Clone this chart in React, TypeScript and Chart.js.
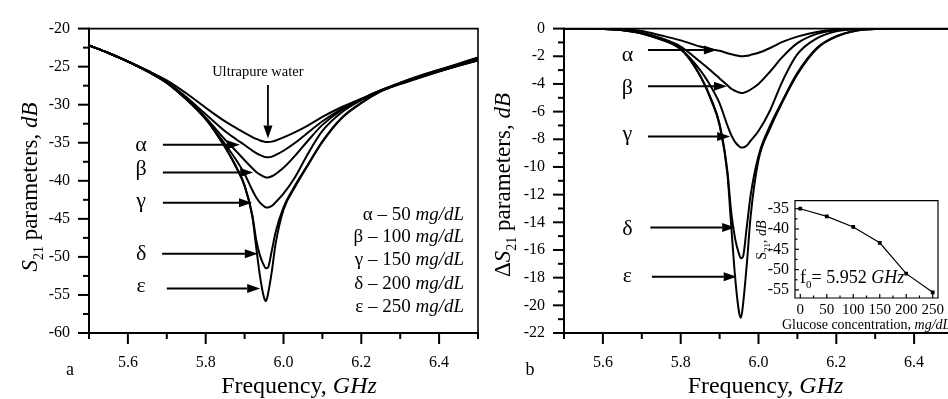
import React, { useEffect, useRef } from 'react';
import { Chart, registerables } from 'chart.js';

Chart.register(...registerables);

const SERIF = '"Liberation Serif", "Times New Roman", serif';

// ---------------- data ----------------
const freqs = [5.50, 5.55, 5.60, 5.65, 5.70, 5.75, 5.80, 5.85, 5.88, 5.90, 5.92, 5.93, 5.94, 5.95, 5.955, 5.96, 5.97, 5.98, 6.00, 6.03, 6.06, 6.10, 6.15, 6.20, 6.25, 6.30, 6.35, 6.40, 6.45, 6.50];

// panel a: S21 (dB)
const waterS21 = [-22.2, -23.2, -24.3, -25.5, -26.8, -28.5, -30.4, -32.2, -33.1, -33.7, -34.25, -34.5, -34.7, -34.85, -34.9, -34.9, -34.85, -34.7, -34.3, -33.6, -32.8, -31.6, -30.3, -29.2, -28.1, -27.1, -26.2, -25.4, -24.6, -23.8];
const alphaS21 = [-22.2, -23.2, -24.31, -25.55, -26.98, -29.0, -31.25, -33.5, -34.6, -35.3, -36.03, -36.36, -36.63, -36.83, -36.9, -36.9, -36.82, -36.6, -36.05, -35.0, -33.78, -32.18, -30.54, -29.27, -28.12, -27.15, -26.25, -25.45, -24.7, -23.95];
const betaS21 = [-22.2, -23.2, -24.32, -25.6, -27.1, -29.2, -31.7, -34.6, -36.2, -37.3, -38.35, -38.85, -39.2, -39.47, -39.55, -39.55, -39.4, -39.1, -38.3, -36.7, -34.9, -32.65, -30.68, -29.32, -28.13, -27.2, -26.3, -25.5, -24.75, -24.0];
const gammaS21 = [-22.2, -23.2, -24.32, -25.6, -27.12, -29.25, -31.9, -35.2, -37.4, -39.1, -41.25, -42.2, -42.9, -43.35, -43.5, -43.5, -43.3, -42.8, -41.7, -39.5, -36.7, -33.45, -31.0, -29.4, -28.15, -27.2, -26.35, -25.55, -24.8, -24.1];
const deltaS21 = [-22.2, -23.2, -24.33, -25.62, -27.15, -29.3, -31.85, -35.6, -38.3, -40.6, -44.55, -47.8, -49.9, -51.15, -51.5, -51.4, -49.15, -46.7, -43.5, -40.6, -38.1, -34.8, -31.7, -29.75, -28.25, -27.25, -26.4, -25.6, -24.85, -24.15];
const epsS21 = [-22.2, -23.2, -24.33, -25.62, -27.15, -29.3, -31.85, -35.6, -38.4, -40.7, -44.75, -48.8, -52.7, -55.35, -55.8, -54.9, -51.9, -48.2, -43.8, -40.8, -38.2, -34.9, -31.75, -29.78, -28.25, -27.3, -26.45, -25.65, -24.9, -24.2];

// panel b: ΔS21 (dB)
const alphaDelta = [0, 0, -0.01, -0.05, -0.18, -0.5, -0.85, -1.3, -1.5, -1.6, -1.78, -1.86, -1.93, -1.98, -2.0, -2.0, -1.97, -1.9, -1.75, -1.4, -0.98, -0.58, -0.24, -0.07, -0.02, 0, 0, 0, 0, 0];
const betaDelta = [0, 0, -0.02, -0.1, -0.3, -0.7, -1.3, -2.4, -3.1, -3.6, -4.1, -4.35, -4.5, -4.62, -4.65, -4.65, -4.55, -4.4, -4.0, -3.1, -2.1, -1.05, -0.38, -0.12, -0.03, 0, 0, 0, 0, 0];
const gammaDelta = [0, 0, -0.02, -0.1, -0.32, -0.75, -1.5, -3.0, -4.3, -5.4, -7.0, -7.7, -8.2, -8.5, -8.6, -8.6, -8.45, -8.1, -7.4, -5.9, -3.9, -1.85, -0.7, -0.2, -0.05, 0, 0, 0, 0, 0];
const deltaDelta = [0, 0, -0.03, -0.12, -0.35, -0.8, -1.45, -3.4, -5.2, -6.9, -10.3, -13.3, -15.2, -16.3, -16.6, -16.5, -14.3, -12.0, -9.2, -7.0, -5.3, -3.2, -1.4, -0.55, -0.15, -0.03, 0, 0, 0, 0];
const epsDelta = [0, 0, -0.03, -0.12, -0.35, -0.8, -1.45, -3.4, -5.3, -7.0, -10.5, -14.3, -18.0, -20.5, -20.9, -20.0, -17.0, -13.5, -9.5, -7.2, -5.4, -3.3, -1.45, -0.58, -0.15, -0.03, 0, 0, 0, 0];

// inset
const concentrations = [0, 50, 100, 150, 200, 250];
const resonanceS21 = [-35.0, -36.9, -39.5, -43.4, -51.0, -55.6];

// ticks / labels
const freqLabelTicks = [5.6, 5.8, 6.0, 6.2, 6.4];
const s21LabelTicks = [-60, -55, -50, -45, -40, -35, -30, -25, -20];
const deltaLabelTicks = [-22, -20, -18, -16, -14, -12, -10, -8, -6, -4, -2, 0];
const concTicks = [0, 50, 100, 150, 200, 250];
const insetS21Ticks = [-55, -50, -45, -40, -35];
const greek = ['α', 'β', 'γ', 'δ', 'ε'];
const concLabels = ['50', '100', '150', '200', '250'];

// annotation anchors (data units)
const arrowA = [
  { y: -35.25, x0: 5.69, x1: 5.888, ty: -36.1 },
  { y: -38.9, x0: 5.69, x1: 5.922, ty: -39.3 },
  { y: -42.9, x0: 5.69, x1: 5.919, ty: -43.4 },
  { y: -49.6, x0: 5.688, x1: 5.934, ty: -50.4 },
  { y: -54.15, x0: 5.70, x1: 5.94, ty: -54.6 },
];
const arrowB = [
  { y: -1.55, x0: 5.716, x1: 5.893, ty: -2.31 },
  { y: -4.16, x0: 5.716, x1: 5.919, ty: -4.7 },
  { y: -7.8, x0: 5.716, x1: 5.927, ty: -8.06 },
  { y: -14.37, x0: 5.722, x1: 5.94, ty: -14.93 },
  { y: -17.94, x0: 5.726, x1: 5.944, ty: -18.29 },
];

// ---------------- helpers ----------------
type Seg = { t: string; it?: boolean; sub?: boolean };

function drawRich(ctx: CanvasRenderingContext2D, segs: Seg[], x: number, y: number, size: number, align = 'left', rot = 0) {
  ctx.save();
  ctx.translate(x, y);
  if (rot) ctx.rotate(rot);
  ctx.textBaseline = 'alphabetic';
  ctx.textAlign = 'left';
  ctx.fillStyle = '#000';
  const font = (s: Seg) => `${s.it ? 'italic ' : ''}${s.sub ? Math.round(size * 0.62) : size}px ${SERIF}`;
  let w = 0;
  for (const s of segs) { ctx.font = font(s); w += ctx.measureText(s.t).width; }
  let cx = align === 'center' ? -w / 2 : align === 'right' ? -w : 0;
  for (const s of segs) {
    ctx.font = font(s);
    ctx.fillText(s.t, cx, s.sub ? size * 0.25 : 0);
    cx += ctx.measureText(s.t).width;
  }
  ctx.restore();
}

function arrow(ctx: CanvasRenderingContext2D, x0: number, y0: number, x1: number, y1: number, head = 13, half = 4.5, lw = 2) {
  const ang = Math.atan2(y1 - y0, x1 - x0);
  const bx = x1 - head * Math.cos(ang);
  const by = y1 - head * Math.sin(ang);
  ctx.lineWidth = lw;
  ctx.beginPath(); ctx.moveTo(x0, y0); ctx.lineTo(bx, by); ctx.stroke();
  ctx.beginPath();
  ctx.moveTo(x1, y1);
  ctx.lineTo(bx - half * Math.sin(ang), by + half * Math.cos(ang));
  ctx.lineTo(bx + half * Math.sin(ang), by - half * Math.cos(ang));
  ctx.closePath(); ctx.fill();
}

function range(a: number, b: number, step: number) {
  const out: number[] = [];
  for (let v = a; v <= b + step / 1000; v += step) out.push(Math.round(v * 1000) / 1000);
  return out;
}

function framePlugin(opts: { xTicks: number[]; xMajor: (v: number) => boolean; yTicks: number[]; yMajor: (v: number) => boolean; major: number; minor: number; inside?: boolean; axisW: number; boxW: number }) {
  return {
    id: 'frame',
    afterDraw(chart: any) {
      const { ctx, chartArea: ca, scales } = chart;
      const xs = scales.x, ys = scales.y;
      ctx.save();
      ctx.strokeStyle = '#000';
      ctx.fillStyle = '#000';
      ctx.lineCap = 'butt';
      ctx.lineWidth = opts.boxW;
      ctx.beginPath();
      ctx.moveTo(ca.left, ca.top); ctx.lineTo(ca.right, ca.top); ctx.lineTo(ca.right, ca.bottom);
      ctx.stroke();
      ctx.lineWidth = opts.axisW;
      ctx.beginPath();
      ctx.moveTo(ca.left, ca.top - opts.boxW / 2); ctx.lineTo(ca.left, ca.bottom); ctx.lineTo(ca.right + opts.boxW / 2, ca.bottom);
      ctx.stroke();
      const dir = opts.inside ? -1 : 1;
      ctx.lineWidth = opts.axisW;
      for (const v of opts.xTicks) {
        const px = xs.getPixelForValue(v);
        const len = opts.xMajor(v) ? opts.major : opts.minor;
        ctx.beginPath(); ctx.moveTo(px, ca.bottom); ctx.lineTo(px, ca.bottom + dir * len); ctx.stroke();
      }
      for (const v of opts.yTicks) {
        const py = ys.getPixelForValue(v);
        const len = opts.yMajor(v) ? opts.major : opts.minor;
        ctx.beginPath(); ctx.moveTo(ca.left, py); ctx.lineTo(ca.left - dir * len, py); ctx.stroke();
      }
      ctx.restore();
    },
  };
}

function lineDatasets(series: number[][], xs: number[], width: number) {
  return series.map((ys) => ({
    data: xs.map((x, i) => ({ x, y: ys[i] })),
    borderColor: '#000',
    borderWidth: width,
    pointRadius: 0,
    cubicInterpolationMode: 'monotone' as const,
    fill: false,
  }));
}

function fixedTicks(values: number[]) {
  return (scale: any) => { scale.ticks = values.map((v) => ({ value: v })); };
}

const isEvenTenth = (v: number) => Math.round(v * 10) % 2 === 0;

// ---------------- component ----------------
export default function App() {
  const refA = useRef<HTMLCanvasElement>(null);
  const refB = useRef<HTMLCanvasElement>(null);
  const refI = useRef<HTMLCanvasElement>(null);

  useEffect(() => {
    const tickFont = { family: SERIF, size: 16 };

    const annotA = {
      id: 'annotA',
      afterDraw(chart: any) {
        const { ctx, scales: { x, y } } = chart;
        ctx.save();
        ctx.strokeStyle = '#000';
        ctx.fillStyle = '#000';
        drawRich(ctx, [{ t: 'Ultrapure water' }], x.getPixelForValue(5.934), y.getPixelForValue(-26.2), 14.5, 'center');
        arrow(ctx, x.getPixelForValue(5.96), y.getPixelForValue(-27.4), x.getPixelForValue(5.96), y.getPixelForValue(-34.45), 13, 4.5, 1.8);
        arrowA.forEach((a, i) => {
          drawRich(ctx, [{ t: greek[i] }], x.getPixelForValue(5.634), y.getPixelForValue(a.ty), 22, 'center');
          arrow(ctx, x.getPixelForValue(a.x0), y.getPixelForValue(a.y), x.getPixelForValue(a.x1), y.getPixelForValue(a.y));
        });
        const legendY = [-45.2, -48.0, -51.1, -54.2, -57.3];
        concLabels.forEach((c, i) => {
          drawRich(ctx, [{ t: `${greek[i]} – ${c} ` }, { t: 'mg/dL', it: true }], x.getPixelForValue(6.464), y.getPixelForValue(legendY[i]), 19, 'right');
        });
        drawRich(ctx, [{ t: 'Frequency, ' }, { t: 'GHz', it: true }], 299, 393, 24, 'center');
        drawRich(ctx, [{ t: 'S', it: true }, { t: '21', sub: true }, { t: ' parameters, ' }, { t: 'dB', it: true }], 37, 187, 23, 'center', -Math.PI / 2);
        drawRich(ctx, [{ t: 'a' }], 70, 375, 18, 'center');
        ctx.restore();
      },
    };

    const annotB = {
      id: 'annotB',
      afterDraw(chart: any) {
        const { ctx, scales: { x, y } } = chart;
        ctx.save();
        ctx.strokeStyle = '#000';
        ctx.fillStyle = '#000';
        arrowB.forEach((a, i) => {
          drawRich(ctx, [{ t: greek[i] }], x.getPixelForValue(5.663), y.getPixelForValue(a.ty), 22, 'center');
          arrow(ctx, x.getPixelForValue(a.x0), y.getPixelForValue(a.y), x.getPixelForValue(a.x1), y.getPixelForValue(a.y));
        });
        drawRich(ctx, [{ t: 'Frequency, ' }, { t: 'GHz', it: true }], 275.5, 393, 24, 'center');
        drawRich(ctx, [{ t: 'Δ' }, { t: 'S', it: true }, { t: '21', sub: true }, { t: ' parameters, ' }, { t: 'dB', it: true }], 20, 185, 23, 'center', -Math.PI / 2);
        drawRich(ctx, [{ t: 'b' }], 40, 375, 18, 'center');
        ctx.restore();
      },
    };

    const whiteArea = {
      id: 'whiteArea',
      beforeDraw(chart: any) {
        const { ctx, chartArea: ca } = chart;
        ctx.save();
        ctx.fillStyle = '#fff';
        ctx.fillRect(ca.left, ca.top, ca.right - ca.left, ca.bottom - ca.top);
        ctx.restore();
      },
    };

    const annotI = {
      id: 'annotI',
      afterDraw(chart: any) {
        const { ctx } = chart;
        drawRich(ctx, [{ t: 'f' }, { t: '0', sub: true }, { t: '= 5.952 ' }, { t: 'GHz', it: true }], 55, 98, 18, 'left');
        drawRich(ctx, [{ t: 'S' }, { t: '21', sub: true }, { t: ', ' }, { t: 'dB', it: true }], 21, 55, 14, 'center', -Math.PI / 2);
        drawRich(ctx, [{ t: 'Glucose concentration, ' }, { t: 'mg/dL', it: true }], 37, 144, 14, 'left');
      },
    };

    const mainScales = (yMin: number, yMax: number, yTicks: number[], yWidth: number) => ({
      x: {
        type: 'linear' as const, min: 5.5, max: 6.5,
        afterBuildTicks: fixedTicks(freqLabelTicks),
        afterFit: (s: any) => { s.height = 66; },
        ticks: { font: tickFont, color: '#000', padding: 20, autoSkip: false, maxRotation: 0, callback: (v: any) => Number(v).toFixed(1) },
        grid: { display: false, drawTicks: false },
        border: { display: false },
      },
      y: {
        type: 'linear' as const, min: yMin, max: yMax,
        afterBuildTicks: fixedTicks(yTicks),
        afterFit: (s: any) => { s.width = yWidth; },
        ticks: { font: tickFont, color: '#000', padding: 19, autoSkip: false, callback: (v: any) => String(v) },
        grid: { display: false, drawTicks: false },
        border: { display: false },
      },
    });

    const a = new Chart(refA.current!, {
      type: 'line',
      data: { datasets: lineDatasets([waterS21, alphaS21, betaS21, gammaS21, deltaS21, epsS21], freqs, 2) },
      options: {
        responsive: false, animation: false, devicePixelRatio: 1,
        layout: { padding: { left: 0, top: 20, right: 12, bottom: 0 } },
        scales: mainScales(-60, -20, s21LabelTicks, 89),
        plugins: { legend: { display: false }, tooltip: { enabled: false } },
      },
      plugins: [
        framePlugin({ xTicks: range(5.5, 6.5, 0.1), xMajor: isEvenTenth, yTicks: range(-60, -20, 2.5), yMajor: (v) => Math.abs(v % 5) < 1e-6, major: 11, minor: 6, axisW: 2, boxW: 1.6 }),
        annotA,
      ],
    } as any);

    const b = new Chart(refB.current!, {
      type: 'line',
      data: { datasets: lineDatasets([alphaDelta, betaDelta, gammaDelta, deltaDelta, epsDelta], freqs, 2) },
      options: {
        responsive: false, animation: false, devicePixelRatio: 1,
        layout: { padding: { left: 0, top: 20, right: 12, bottom: 0 } },
        scales: mainScales(-22, 0, deltaLabelTicks, 74),
        plugins: { legend: { display: false }, tooltip: { enabled: false } },
      },
      plugins: [
        framePlugin({ xTicks: range(5.5, 6.5, 0.1), xMajor: isEvenTenth, yTicks: range(-22, 0, 1), yMajor: (v) => Math.abs(v % 2) < 1e-6, major: 11, minor: 6, axisW: 2, boxW: 1.6 }),
        annotB,
      ],
    } as any);

    const inset = new Chart(refI.current!, {
      type: 'line',
      data: {
        datasets: [{
          data: concentrations.map((c, i) => ({ x: c, y: resonanceS21[i] })),
          borderColor: '#000', backgroundColor: '#000', borderWidth: 1.2,
          pointStyle: 'rect', pointRadius: 1.8, tension: 0,
        }],
      },
      options: {
        responsive: false, animation: false, devicePixelRatio: 1,
        layout: { padding: { left: 0, top: 10, right: 22, bottom: 0 } },
        scales: {
          x: {
            type: 'linear', min: -10, max: 260,
            afterBuildTicks: fixedTicks(concTicks),
            afterFit: (s: any) => { s.height = 37; },
            ticks: { font: { family: SERIF, size: 15 }, color: '#000', padding: 3, autoSkip: false, maxRotation: 0 },
            grid: { display: false, drawTicks: false }, border: { display: false },
          },
          y: {
            type: 'linear', min: -57, max: -33,
            afterBuildTicks: fixedTicks(insetS21Ticks),
            afterFit: (s: any) => { s.width = 50; },
            ticks: { font: { family: SERIF, size: 16 }, color: '#000', padding: 6, autoSkip: false },
            grid: { display: false, drawTicks: false }, border: { display: false },
          },
        },
        plugins: { legend: { display: false }, tooltip: { enabled: false } },
      },
      plugins: [
        whiteArea,
        framePlugin({ xTicks: range(0, 250, 25), xMajor: (v) => v % 50 === 0, yTicks: range(-55, -35, 2.5), yMajor: (v) => Math.abs(v % 5) < 1e-6, major: 4, minor: 2.5, inside: true, axisW: 1.2, boxW: 1.2 }),
        annotI,
      ],
    } as any);

    return () => { a.destroy(); b.destroy(); inset.destroy(); };
  }, []);

  return (
    <div style={{ position: 'fixed', left: 0, top: 0, width: 948, height: 399, overflow: 'hidden', background: '#fff' }}>
      <canvas ref={refA} width={490} height={399} style={{ position: 'absolute', left: 0, top: 0 }} />
      <canvas ref={refB} width={475} height={399} style={{ position: 'absolute', left: 490, top: 0 }} />
      <canvas ref={refI} width={215} height={150} style={{ position: 'absolute', left: 745, top: 185 }} />
    </div>
  );
}
